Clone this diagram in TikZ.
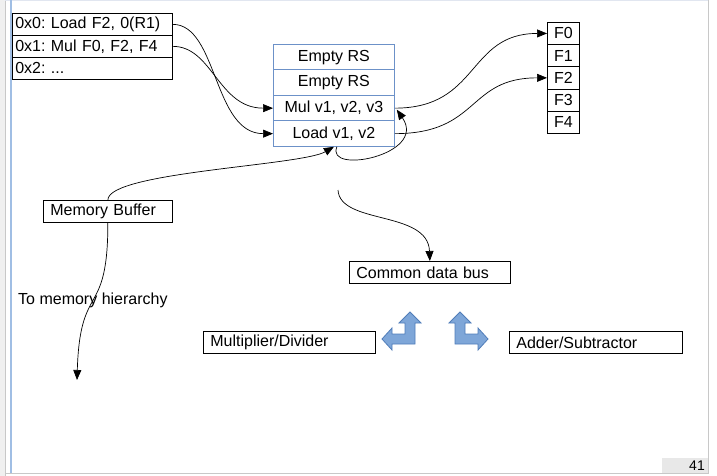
\documentclass[tikz,border=0pt]{standalone}
\usepackage{fontspec}
\setmainfont{Liberation Sans}
\usetikzlibrary{arrows.meta}
\frenchspacing
\definecolor{rsblue}{RGB}{108,145,200}
\definecolor{afill}{RGB}{126,166,216}
\definecolor{aline}{RGB}{80,125,185}
\definecolor{framegray}{RGB}{200,200,200}
\definecolor{stripgray}{RGB}{240,240,240}
\definecolor{frameblue}{RGB}{160,190,228}
\definecolor{toplight}{RGB}{225,230,240}
\definecolor{pagegray}{RGB}{232,232,232}
\begin{document}
\frenchspacing
\begin{tikzpicture}[x=1pt,y=-1pt,
  every node/.style={font=\fontsize{16}{19}\selectfont},
  lbox/.style={draw=black, line width=0.7pt, anchor=north west, inner ysep=0pt, minimum height=22pt, align=left},
  rsbox/.style={draw=rsblue, line width=0.8pt, anchor=north west, minimum width=121pt, minimum height=25.5pt, inner sep=0pt},
  fbox/.style={draw=black, line width=0.7pt, anchor=north west, minimum width=32pt, minimum height=22.2pt, inner sep=0pt},
  conn/.style={draw=black, line width=0.7pt},
  arr/.style={conn, -{Triangle[length=10pt,width=8pt]}},
  bent/.style={fill=afill, draw=aline, line width=0.8pt, line join=miter}]
\useasboundingbox (0,0) rectangle (717,476);
% page frame
\fill[white] (0,0) rectangle (717,476);
\fill[stripgray] (0,0) rectangle (5,476);
\draw[framegray, line width=0.6pt] (5,0) -- (5,476);
\draw[toplight, line width=1pt] (5,1) -- (708,1);
\draw[frameblue, line width=1.6pt] (11,0) -- (11,473);
\draw[framegray, line width=1pt] (708,0) -- (708,473.5) -- (5,473.5);
\fill[pagegray] (662,458) rectangle (707.5,473);
\node[anchor=east, inner sep=0pt, font=\fontsize{14}{16}\selectfont] (pg) at (705,466) {41};

% instruction table
\node[lbox, text width=154pt, inner xsep=3pt] (i0) at (12,13) {0x0: Load F2, 0(R1)};
\node[lbox, text width=154pt, inner xsep=3pt] (i1) at (12,35) {0x1: Mul F0, F2, F4};
\node[lbox, text width=154pt, inner xsep=3pt] (i2) at (12,57) {0x2: ...};

% reservation stations
\node[rsbox] (rs1) at (273,44) {Empty RS};
\node[rsbox] (rs2) at (273,69.5) {Empty RS};
\node[rsbox] (rs3) at (273,95) {Mul v1, v2, v3};
\node[rsbox] (rs4) at (273,120.5) {Load v1, v2};

% registers
\node[fbox] (f0) at (547,22) {F0};
\node[fbox] (f1) at (547,44.2) {F1};
\node[fbox] (f2) at (547,66.4) {F2};
\node[fbox] (f3) at (547,88.6) {F3};
\node[fbox] (f4) at (547,110.8) {F4};

% other boxes
\node[lbox, text width=115pt, inner xsep=7pt] (mb) at (43,200) {Memory Buffer};
\node[lbox, text width=147pt, inner xsep=7pt] (cdb) at (349,261) {Common data bus};
\node[lbox, text width=158pt, inner xsep=7pt] (mul) at (203,331) {Multiplier/Divider};
\node[lbox, text width=159pt, inner xsep=7pt] (add) at (509,331) {Adder/Subtractor};
\node[anchor=west, inner sep=0pt] (tmh) at (18,300) {To memory hierarchy};

\coordinate (mbend) at (77,380);
\coordinate (cdbstart) at (338,190);

% connectors
\draw[arr] (i0.east) .. controls +(45,0) and +(-60,0) .. (rs4.west);
\draw[arr] (i1.east) .. controls +(40,0) and +(-55,0) .. (rs3.west);
\draw[arr] (rs3.east) .. controls +(85,0) and +(-80,0) .. (f0.west);
\draw[arr] (rs4.east) .. controls +(85,0) and +(-80,0) .. (f2.west);
\draw[arr] ([xshift=3pt]rs4.south) .. controls (325,175) and (428,155) .. ([xshift=2pt,yshift=-1.5pt]rs3.east);
\draw[arr] (mb.north) .. controls +(0,-28) and +(-33,19) .. (rs4.south);
\draw[arr] (mb.south) .. controls (108,320) and (80,280) .. (mbend);
\draw[arr] (cdbstart) .. controls (340,225) and (428,210) .. (cdb.north);

% bent arrows
\draw[bent] (410,312) -- (421,323) -- (415,323) -- (415,344) -- (392,344) -- (392,350) -- (382,339) -- (392,328) -- (392,334) -- (405,334) -- (405,323) -- (399,323) -- cycle;
\draw[bent] (460,312) -- (449,323) -- (455,323) -- (455,344) -- (478,344) -- (478,350) -- (488,339) -- (478,328) -- (478,334) -- (465,334) -- (465,323) -- (471,323) -- cycle;
\end{tikzpicture}
\end{document}
